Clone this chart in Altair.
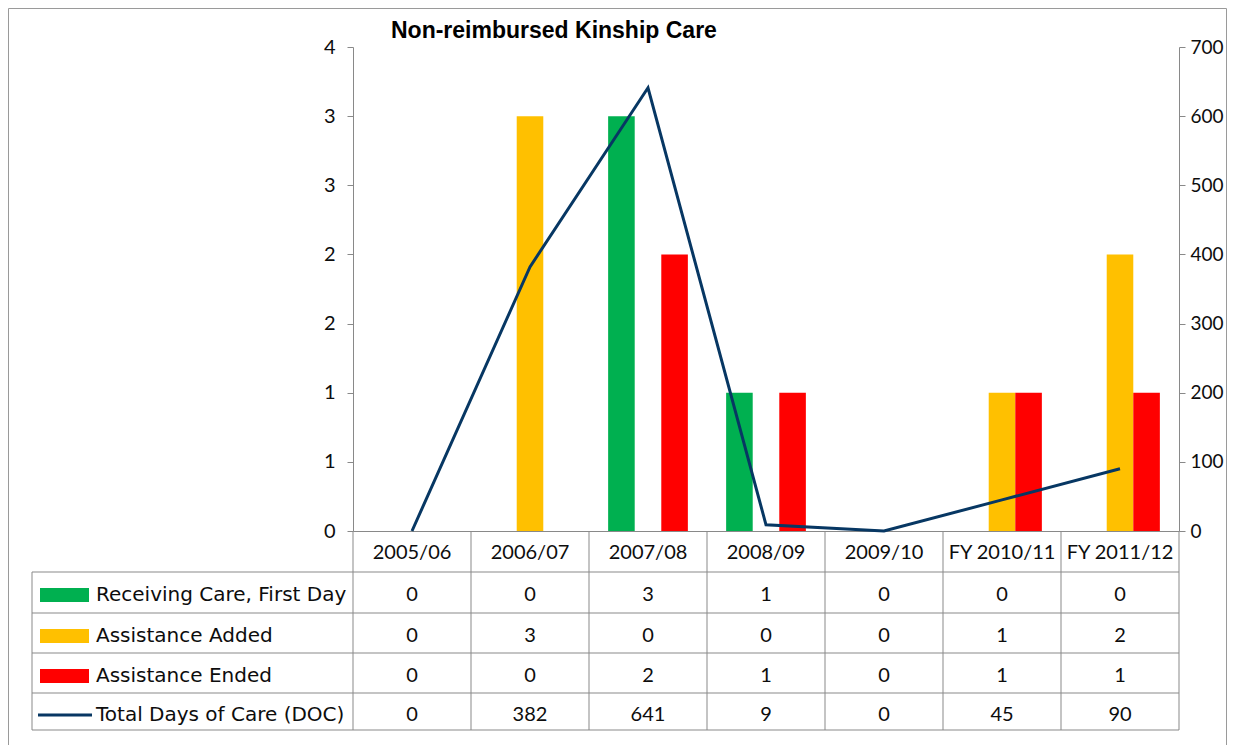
import altair as alt
import pandas as pd

# ---- data ----
categories = ["2005/06", "2006/07", "2007/08", "2008/09", "2009/10", "FY 2010/11", "FY 2011/12"]
series_names = ["Receiving Care, First Day", "Assistance Added", "Assistance Ended"]
receiving_care = [0, 0, 3, 1, 0, 0, 0]
assistance_added = [0, 3, 0, 0, 0, 1, 2]
assistance_ended = [0, 0, 2, 1, 0, 1, 1]
total_doc = [0, 382, 641, 9, 0, 45, 90]
doc_name = "Total Days of Care (DOC)"
chart_title = "Non-reimbursed Kinship Care"
left_ticks = [0, 0.5, 1, 1.5, 2, 2.5, 3, 3.5]
right_ticks = [0, 100, 200, 300, 400, 500, 600, 700]

series_colors = ["#00B050", "#FFC000", "#FF0000"]
line_color = "#073763"
GRID = "#898989"
FONT = "Lato"
LEG_FONT = "DejaVu Sans"
TITLE_FONT = "Liberation Sans"
TXT = "#0d0d0d"

bars_df = pd.DataFrame({
    "cat": categories * 3,
    "series": [series_names[0]] * 7 + [series_names[1]] * 7 + [series_names[2]] * 7,
    "value": receiving_care + assistance_added + assistance_ended,
})
doc_df = pd.DataFrame({"cat": categories, "doc": total_doc})
one = pd.DataFrame({"k": [0]})

W, H = 826, 484

xscale = alt.Scale(domain=categories, paddingInner=0, paddingOuter=0)
xaxis = alt.Axis(labels=False, ticks=False, domain=True, domainColor=GRID, grid=False, title=None)


def X(**kw):
    return alt.X("cat:N", sort=categories, scale=xscale, axis=xaxis, title=None, **kw)


bars = alt.Chart(bars_df).mark_bar().encode(
    x=X(),
    xOffset=alt.XOffset("series:N", sort=series_names,
                        scale=alt.Scale(domain=series_names, paddingOuter=0.72, paddingInner=0)),
    y=alt.Y("value:Q", title=None,
            scale=alt.Scale(domain=[0, 3.5], nice=False, zero=True),
            axis=alt.Axis(orient="left", values=left_ticks, labelExpr="format(round(datum.value), 'd')",
                          grid=False, tickSize=6, labelPadding=12, domainColor=GRID, tickColor=GRID,
                          labelFont=FONT, labelFontSize=20, labelColor=TXT, labelOverlap=False)),
    color=alt.Color("series:N", scale=alt.Scale(domain=series_names, range=series_colors), legend=None),
)

line = alt.Chart(doc_df).mark_line(color=line_color, strokeWidth=3).encode(
    x=X(),
    y=alt.Y("doc:Q", title=None,
            scale=alt.Scale(domain=[0, 700], nice=False, zero=True),
            axis=alt.Axis(orient="right", values=right_ticks, format="d",
                          grid=False, tickSize=6, labelPadding=5, domainColor=GRID, tickColor=GRID,
                          labelFont=FONT, labelFontSize=19, labelColor=TXT, labelOverlap=False)),
)

layers = [bars, line]

# ---- chart title ----
layers.append(alt.Chart(one).transform_calculate(lbl=f"'{chart_title}'").mark_text(
    font=TITLE_FONT, fontSize=23, fontWeight="bold", color="#000", baseline="alphabetic", align="left").encode(
    x=alt.value(38), y=alt.value(-9), text="lbl:N"))

# ---- data table below the plot ----
text_style = dict(font=FONT, fontSize=20, color=TXT, baseline="middle", align="center")

layers.append(alt.Chart(doc_df).mark_text(**text_style).encode(
    x=X(), y=alt.value(506), text="cat:N"))

row_y = [548, 589, 629, 668]
for name, yy in zip(series_names, row_y[:3]):
    layers.append(alt.Chart(bars_df).transform_filter(alt.datum.series == name)
                  .mark_text(**text_style).encode(x=X(), y=alt.value(yy), text="value:Q"))
layers.append(alt.Chart(doc_df).mark_text(**text_style).encode(
    x=X(), y=alt.value(row_y[3]), text="doc:Q"))

# table grid: vertical lines at category edges
layers.append(alt.Chart(doc_df).mark_rule(color=GRID, strokeWidth=1).encode(
    x=X(bandPosition=0), y=alt.value(484), y2=alt.value(683)))
layers.append(alt.Chart(one).mark_rule(color=GRID, strokeWidth=1).encode(
    x=alt.value(W), y=alt.value(484), y2=alt.value(683)))
layers.append(alt.Chart(one).mark_rule(color=GRID, strokeWidth=1).encode(
    x=alt.value(-321), y=alt.value(525), y2=alt.value(683)))
for yy in [525, 566, 606, 646, 683]:
    layers.append(alt.Chart(one).mark_rule(color=GRID, strokeWidth=1).encode(
        x=alt.value(-321), x2=alt.value(W), y=alt.value(yy)))

# legend keys in the table
for name, col, yy in zip(series_names, series_colors, row_y[:3]):
    layers.append(alt.Chart(one).mark_rect(color=col).encode(
        x=alt.value(-313), x2=alt.value(-264), y=alt.value(yy - 7), y2=alt.value(yy + 7)))
    layers.append(alt.Chart(one).transform_calculate(lbl=f"'{name}'").mark_text(
        font=LEG_FONT, fontSize=20, color=TXT, baseline="middle", align="left").encode(
        x=alt.value(-257), y=alt.value(yy), text="lbl:N"))
layers.append(alt.Chart(one).mark_rule(color=line_color, strokeWidth=3).encode(
    x=alt.value(-315), x2=alt.value(-261), y=alt.value(row_y[3])))
layers.append(alt.Chart(one).transform_calculate(lbl=f"'{doc_name}'").mark_text(
    font=LEG_FONT, fontSize=20, color=TXT, baseline="middle", align="left").encode(
    x=alt.value(-257), y=alt.value(row_y[3]), text="lbl:N"))

# outer chart border
layers.append(alt.Chart(one).mark_rect(fillOpacity=0, stroke="#9a9a9a", strokeWidth=1).encode(
    x=alt.value(-344.5), x2=alt.value(873.5), y=alt.value(-38.5), y2=alt.value(720)))

chart = alt.layer(*layers).resolve_scale(y="independent").properties(
    width=W, height=H,
    autosize=alt.AutoSizeParams(type="none"),
    padding={"left": 345, "top": 39, "right": 48, "bottom": 214},
).configure_view(stroke=None)

chart.save("out.html", embed_options={"renderer": "svg", "actions": False})
